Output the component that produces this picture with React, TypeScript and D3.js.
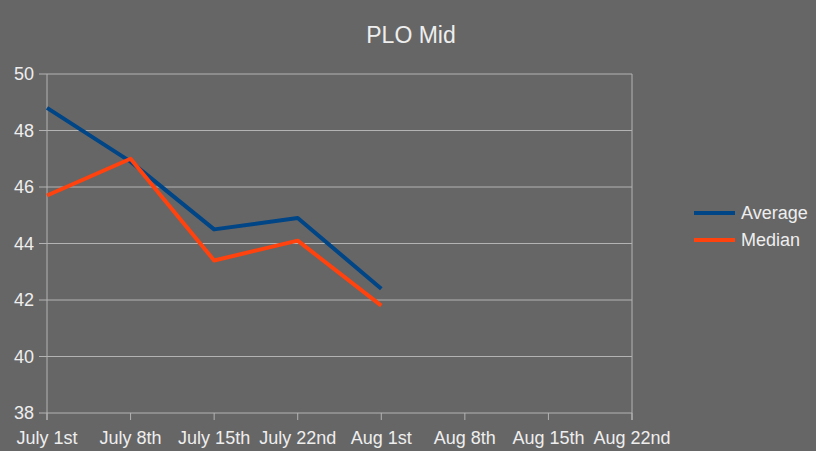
import * as d3 from "d3";

const categories = ["July 1st", "July 8th", "July 15th", "July 22nd", "Aug 1st", "Aug 8th", "Aug 15th", "Aug 22nd"];
const averageValues = [48.8, 46.9, 44.5, 44.9, 42.4];
const medianValues = [45.7, 47.0, 43.4, 44.1, 41.8];
const yTicks = [38, 40, 42, 44, 46, 48, 50];

const series = [
  { name: "Average", values: averageValues, color: "#004586" },
  { name: "Median", values: medianValues, color: "#ff420e" },
];

const width = 816;
const height = 451;
const marginLeft = 47;
const marginRight = 184;
const marginTop = 74;
const marginBottom = 38;

const font = "'Liberation Sans', Arial, sans-serif";
const textColor = "#eeeeee";
const gridColor = "#b3b3b3";

export default function App() {
  const x = d3.scalePoint(categories, [marginLeft, width - marginRight]);
  const y = d3.scaleLinear([38, 50], [height - marginBottom, marginTop]);

  const line = d3
    .line<number>()
    .x((_, i) => x(categories[i])!)
    .y((d) => y(d));

  return (
    <svg
      width={width}
      height={height}
      style={{ position: "absolute", left: 0, top: 0, background: "#666666", fontFamily: font }}
    >
      <rect width={width} height={height} fill="#666666" />
      <text x={411} y={43} textAnchor="middle" fontSize={23} fill={textColor}>
        PLO Mid
      </text>

      {/* horizontal grid + y ticks */}
      {yTicks.map((t) => (
        <g key={t}>
          <line x1={marginLeft - 8} x2={width - marginRight} y1={y(t)} y2={y(t)} stroke={gridColor} strokeWidth={1} />
          <text x={marginLeft - 13} y={y(t)} dy="0.35em" textAnchor="end" fontSize={18} fill={textColor}>
            {t}
          </text>
        </g>
      ))}

      {/* left and right borders */}
      <line x1={marginLeft} x2={marginLeft} y1={marginTop} y2={height - marginBottom + 7} stroke={gridColor} />
      <line x1={width - marginRight} x2={width - marginRight} y1={marginTop} y2={height - marginBottom + 7} stroke={gridColor} />

      {/* x ticks */}
      {categories.map((c) => (
        <g key={c}>
          <line x1={x(c)} x2={x(c)} y1={height - marginBottom} y2={height - marginBottom + 7} stroke={gridColor} />
          <text x={x(c)} y={444} textAnchor="middle" fontSize={18} fill={textColor}>
            {c}
          </text>
        </g>
      ))}

      {series.map((s) => (
        <path
          key={s.name}
          d={line(s.values) as string}
          fill="none"
          stroke={s.color}
          strokeWidth={4}
          strokeLinejoin="round"
        />
      ))}

      {/* legend */}
      {series.map((s, i) => (
        <g key={s.name} transform={`translate(694,${213 + i * 27})`}>
          <line x1={0} x2={41} y1={0} y2={0} stroke={s.color} strokeWidth={4} />
          <text x={47} y={0} dy="0.35em" fontSize={18} fill={textColor}>
            {s.name}
          </text>
        </g>
      ))}
    </svg>
  );
}
